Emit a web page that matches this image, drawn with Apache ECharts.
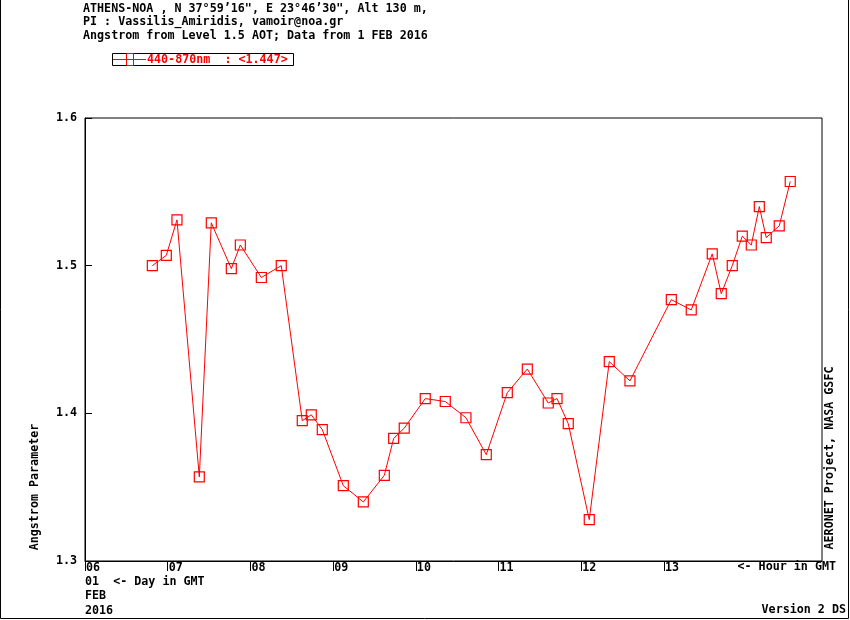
<!DOCTYPE html>
<html>
<head>
<meta charset="utf-8">
<script src="https://cdn.jsdelivr.net/npm/echarts@6/dist/echarts.min.js"></script>
<style>
html,body{margin:0;padding:0;background:#fff;}
#chart{width:850px;height:620px;}
</style>
</head>
<body>
<div id="chart"></div>
<script>
// Hour in GMT (decimal) on 1 FEB 2016
var hours = [6.814,6.983,7.112,7.382,7.527,7.769,7.878,8.132,8.373,8.627,8.736,8.869,9.123,9.365,9.619,9.732,9.860,10.114,10.356,10.606,10.852,11.106,11.348,11.601,11.707,11.843,12.097,12.339,12.589,13.089,13.330,13.584,13.693,13.826,13.947,14.056,14.153,14.237,14.394,14.527];
// Angstrom parameter 440-870nm
var angstrom = [1.500,1.507,1.531,1.357,1.529,1.498,1.514,1.492,1.500,1.395,1.399,1.389,1.351,1.340,1.358,1.383,1.390,1.410,1.408,1.397,1.372,1.414,1.430,1.407,1.410,1.393,1.328,1.435,1.422,1.477,1.470,1.508,1.481,1.500,1.520,1.514,1.540,1.519,1.527,1.557];
var hourTicks = ['06','07','08','09','10','11','12','13'];
var yTicks = ['1.3','1.4','1.5','1.6'];
var titleLines = [
  'ATHENS-NOA , N 37\u00b059\u201916", E 23\u00b046\u201930", Alt 130 m,',
  'PI : Vassilis_Amiridis, vamoir@noa.gr',
  'Angstrom from Level 1.5 AOT; Data from 1 FEB 2016'
];
var legendLabel = '440-870nm  : <1.447>';

var FONT = '"DejaVu Sans Mono", "Liberation Mono", monospace';
var FS = 11.7;
var pts = hours.map(function(h, i){ return [h, angstrom[i]]; });

var chart = echarts.init(document.getElementById('chart'), null, {renderer:'canvas'});

function txt(x, y, s, opts){
  opts = opts || {};
  return {
    type:'text', x:x, y:y, rotation: opts.rotation || 0, silent:true,
    style:{ text:s, fill: opts.color || '#000', font: 'bold ' + FS + 'px ' + FONT,
      textAlign: opts.align || 'left', textVerticalAlign:'middle' }
  };
}

var graphics = [];
titleLines.forEach(function(s, i){ graphics.push(txt(83, 9 + i*13.3, s)); });
// legend box
graphics.push({type:'rect', shape:{x:112.5,y:53.5,width:181,height:12}, style:{fill:'none', stroke:'#000', lineWidth:1}, silent:true});
graphics.push({type:'line', shape:{x1:113,y1:59.5,x2:146,y2:59.5}, style:{stroke:'#ff0000', lineWidth:1}, silent:true});
graphics.push({type:'rect', shape:{x:126.5,y:53.5,width:7,height:12}, style:{fill:'none', stroke:'#ff0000', lineWidth:1}, silent:true});
graphics.push(txt(147, 59.5, legendLabel, {color:'#ff0000'}));
// axis names and footer
graphics.push(txt(35, 487, 'Angstrom Parameter', {rotation:Math.PI/2, align:'center'}));
graphics.push(txt(830, 458, 'AERONET Project, NASA GSFC', {rotation:Math.PI/2, align:'center'}));
graphics.push(txt(836, 567, '<- Hour in GMT', {align:'right'}));
graphics.push(txt(85, 582, '01  <- Day in GMT'));
graphics.push(txt(85, 596, 'FEB'));
graphics.push(txt(85, 611, '2016'));
graphics.push(txt(846, 610, 'Version 2 DS', {align:'right'}));
// outer frame
graphics.push({type:'polyline', shape:{points:[[0.5,0],[0.5,618.5],[848.5,618.5],[848.5,0]]}, style:{fill:'none', stroke:'#000', lineWidth:1}, silent:true});

var option = {
  animation:false,
  backgroundColor:'#fff',
  grid:[
    {left:85, top:118, width:737, height:443, show:true, borderColor:'#000', borderWidth:1, backgroundColor:'transparent'},
    {left:85, top:118, width:579, height:443, show:false}
  ],
  xAxis:[
    {type:'value', gridIndex:0, min:6, max:14.911, interval:1,
     axisLine:{show:true, lineStyle:{color:'#000', width:1}}, axisTick:{show:false}, axisLabel:{show:false}, splitLine:{show:false}},
    {type:'value', gridIndex:1, min:6, max:13, interval:1,
     axisLine:{show:false}, axisTick:{show:true, inside:false, length:10, lineStyle:{color:'#000', width:1}},
     axisLabel:{show:true, align:'left', margin:1, padding:[0,0,0,1], color:'#000', fontFamily:FONT, fontWeight:'bold', fontSize:FS,
       verticalAlign:'top',
       formatter:function(v){ return hourTicks[Math.round(v)-6] || ''; }},
     splitLine:{show:false}}
  ],
  yAxis:[
    {type:'value', gridIndex:0, min:1.3, max:1.6, interval:0.1,
     axisLine:{show:true, lineStyle:{color:'#000', width:1}},
     axisTick:{show:true, inside:true, length:7, lineStyle:{color:'#000', width:1}},
     axisLabel:{show:true, margin:8, color:'#000', fontFamily:FONT, fontWeight:'bold', fontSize:FS,
       formatter:function(v){ return yTicks[Math.round((v-1.3)*10)] || ''; }},
     splitLine:{show:false}},
    {type:'value', gridIndex:1, min:1.3, max:1.6, show:false}
  ],
  series:[{
    type:'line', xAxisIndex:0, yAxisIndex:0, data:pts,
    symbol:'rect', symbolSize:10, showAllSymbol:true,
    lineStyle:{color:'#ff0000', width:1},
    itemStyle:{color:'rgba(0,0,0,0)', borderColor:'#ff0000', borderWidth:1.2},
    emphasis:{disabled:true}
  }],
  graphic:graphics
};
chart.setOption(option);
</script>
</body>
</html>
